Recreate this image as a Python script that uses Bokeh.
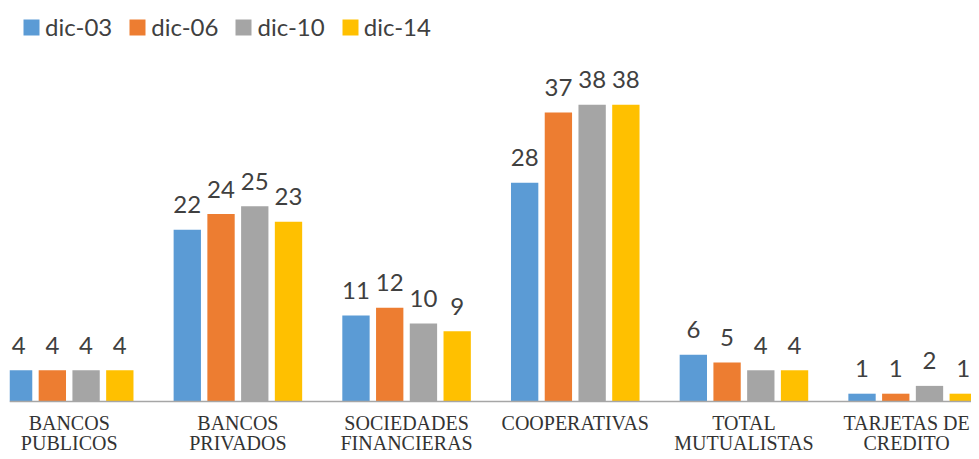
from bokeh.plotting import figure
from bokeh.models import ColumnDataSource, Range1d, Span, Legend, LegendItem
from bokeh.core.properties import value
from bokeh.embed import file_html
from bokeh.resources import INLINE

categories = ["BANCOS\nPUBLICOS", "BANCOS\nPRIVADOS", "SOCIEDADES\nFINANCIERAS",
              "COOPERATIVAS", "TOTAL\nMUTUALISTAS", "TARJETAS DE\nCREDITO"]
series = ["dic-03", "dic-06", "dic-10", "dic-14"]
dic03 = [4, 22, 11, 28, 6, 1]
dic06 = [4, 24, 12, 37, 5, 1]
dic10 = [4, 25, 10, 38, 4, 2]
dic14 = [4, 23, 9, 38, 4, 1]
values = [dic03, dic06, dic10, dic14]
colors = ["#5B9BD5", "#ED7D31", "#A5A5A5", "#FFC000"]
offsets = [-0.3, -0.1, 0.1, 0.3]
label_nudge = [0, 0, 0, 0, 0, -6]  # keep last category label inside the canvas

W, H = 971, 451
p = figure(width=W, height=H, output_backend="svg", toolbar_location=None,
           x_range=Range1d(-0.354, 5.349), y_range=Range1d(-6.40, 51.34),
           x_axis_location=None, y_axis_location=None,
           min_border_left=9, min_border_right=0, min_border_top=0, min_border_bottom=0,
           outline_line_color=None)
p.grid.visible = False
p.background_fill_color = "white"

idx = list(range(len(categories)))
renderers = []
for s, vals, col, off in zip(series, values, colors, offsets):
    src = ColumnDataSource(dict(x=[i + off for i in idx], top=vals,
                                lbl=[str(v) for v in vals]))
    r = p.vbar(x="x", top="top", bottom=0, width=0.162, source=src,
               fill_color=col, line_color=None)
    renderers.append((s, r))
    p.text(x="x", y="top", text="lbl", source=src, text_align="center",
           text_baseline="alphabetic", y_offset=-25,
           text_font=value("Lato"), text_font_size="24px", text_color="#404040")

p.add_layout(Span(location=0, dimension="width", line_color="#A6A6A6", line_width=1.5))

csrc = ColumnDataSource(dict(x=idx, y=[0] * len(idx), t=categories, dx=label_nudge))
p.text(x="x", y="y", text="t", source=csrc, text_align="center", text_baseline="top",
       x_offset="dx", y_offset=10, text_font=value("Liberation Serif"),
       text_font_size="20px", text_color="#333333", text_line_height=0.95)

legend = Legend(items=[LegendItem(label=s, renderers=[r]) for s, r in renderers],
                orientation="horizontal", location=(12, 410),
                glyph_width=20, glyph_height=20, label_standoff=4, spacing=15,
                padding=0, margin=0, border_line_color=None, background_fill_alpha=0,
                label_text_font="Lato", label_text_font_size="24px",
                label_text_color="#404040")
p.add_layout(legend)

open("out.html", "w").write(file_html(p, INLINE))
